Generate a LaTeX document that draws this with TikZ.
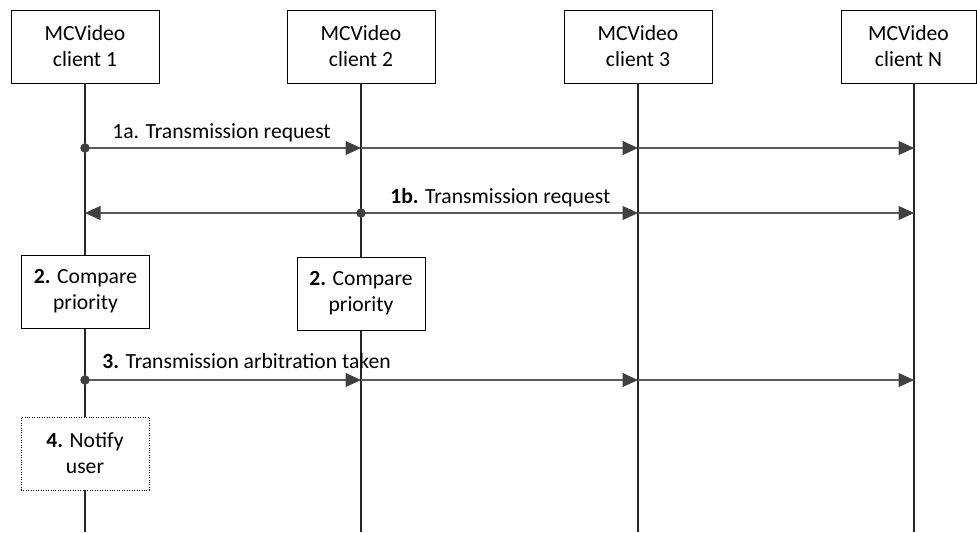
\documentclass[tikz,border=0pt]{standalone}
\usepackage{fontspec}
\setmainfont{Carlito}
\usetikzlibrary{arrows.meta}
\usetikzlibrary{positioning,shapes}
\definecolor{msggray}{HTML}{5A5A5A}
\definecolor{tipgray}{HTML}{404040}
\tikzset{
  entity/.style={draw, fill=white, align=center, minimum width=2.96cm,
    minimum height=1.46cm, inner sep=0pt, font=\fontsize{12.3}{14.8}\selectfont},
  action/.style={entity, minimum width=2.56cm},
  optional/.style={action, densely dotted},
  lifeline/.style={draw=black!85, line width=0.6pt},
  msg/.style={draw=msggray, line width=0.6pt,
    -{Triangle[length=0.31cm,width=0.28cm,color=tipgray,fill=tipgray]}},
  origin/.style={circle, fill=tipgray, inner sep=0pt, minimum size=0.19cm},
  msglabel/.style={anchor=base west, inner sep=0pt, font=\fontsize{12.3}{14.8}\selectfont}
}

\begin{document}
\begin{tikzpicture}
  \useasboundingbox (0,0) rectangle (19.54,-10.64);
  % clients
  \node[entity] (C1) at (1.70,-0.93) {MCVideo\\client 1};
  \node[entity] (C2) at (7.22,-0.93) {MCVideo\\client 2};
  \node[entity] (C3) at (12.76,-0.93) {MCVideo\\client 3};
  \node[entity, minimum width=2.70cm] (CN) at (18.17,-0.93) {MCVideo\\client N};
  \coordinate (CNtop) at (18.28,-1.66);
  \coordinate (CNend) at (18.28,-10.64);
  % lifelines
  \draw[lifeline] (C1.south) -- (C1.south |- CNend);
  \draw[lifeline] (C2.south) -- (C2.south |- CNend);
  \draw[lifeline] (C3.south) -- (C3.south |- CNend);
  \draw[lifeline] (CNtop) -- (CNend);
  % message rows
  \foreach \m/\y in {a/-2.96,b/-4.26,c/-7.60}{
    \coordinate (\m1) at (1.70,\y);
    \coordinate (\m2) at (7.22,\y);
    \coordinate (\m3) at (12.76,\y);
    \coordinate (\m N) at (18.28,\y);
  }
  % local actions
  \node[action] (P1) at (1.71,-5.83) {\textbf{2.} Compare\\priority};
  \node[action] (P2) at (7.22,-5.87) {\textbf{2.} Compare\\priority};
  \node[optional] (U1) at (1.70,-9.07) {\textbf{4.} Notify\\user};
  % 1a
  \draw[msg] (a1) -- (a2);
  \draw[msg] (a2) -- (a3);
  \draw[msg] (a3) -- (aN);
  \node[origin] (a1dot) at (a1) {};
  \node[msglabel] (la) at (2.24,-2.76) {1a. Transmission request};
  % 1b
  \draw[msg] (b2) -- (b1);
  \draw[msg] (b2) -- (b3);
  \draw[msg] (b3) -- (bN);
  \node[origin] (b2dot) at (b2) {};
  \node[msglabel] (lb) at (7.80,-4.06) {\textbf{1b.} Transmission request};
  % 3
  \draw[msg] (c1) -- (c2);
  \draw[msg] (c2) -- (c3);
  \draw[msg] (c3) -- (cN);
  \node[origin] (c1dot) at (c1) {};
  \node[msglabel] (lc) at (2.04,-7.36) {\textbf{3.} Transmission arbitration taken};
\end{tikzpicture}
\end{document}
